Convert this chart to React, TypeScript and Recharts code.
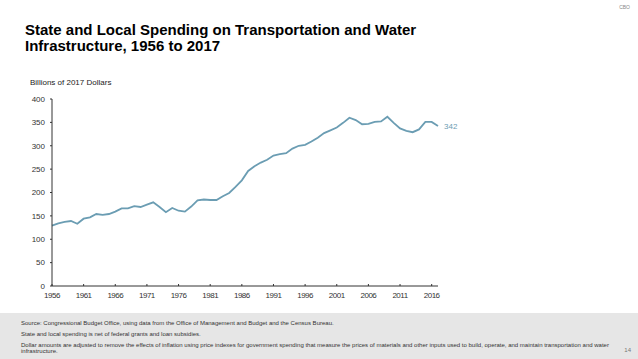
import { LineChart, Line, XAxis, YAxis } from "recharts";

const years = [
  1956, 1957, 1958, 1959, 1960, 1961, 1962, 1963, 1964, 1965, 1966, 1967, 1968, 1969, 1970, 1971,
  1972, 1973, 1974, 1975, 1976, 1977, 1978, 1979, 1980, 1981, 1982, 1983, 1984, 1985, 1986, 1987,
  1988, 1989, 1990, 1991, 1992, 1993, 1994, 1995, 1996, 1997, 1998, 1999, 2000, 2001, 2002, 2003,
  2004, 2005, 2006, 2007, 2008, 2009, 2010, 2011, 2012, 2013, 2014, 2015, 2016, 2017,
];

// billions of 2017 dollars
const spending = [
  129, 134, 137, 139, 133, 144, 147, 154, 152, 154, 159, 166, 166, 171, 169, 174,
  179, 169, 158, 167, 161, 159, 170, 183, 185, 184, 184, 192, 199, 212, 226, 246,
  256, 264, 270, 279, 282, 284, 294, 300, 302, 309, 317, 327, 333, 339, 349, 360,
  355, 346, 347, 351, 352, 362, 349, 337, 332, 329, 335, 351, 351, 342,
];

const xTicks = [1956, 1961, 1966, 1971, 1976, 1981, 1986, 1991, 1996, 2001, 2006, 2011, 2016];
const yTicks = [0, 50, 100, 150, 200, 250, 300, 350, 400];

const notes = [
  "Source: Congressional Budget Office, using data from the Office of Management and Budget and the Census Bureau.",
  "State and local spending is net of federal grants and loan subsidies.",
  "Dollar amounts are adjusted to remove the effects of inflation using price indexes for government spending that measure the prices of materials and other inputs used to build, operate, and maintain transportation and water infrastructure.",
];

const lineColor = "#6b9db3";
const font = "'Liberation Sans', Arial, sans-serif";

const data = years.map((year, i) => ({ year, value: spending[i] }));

function EndLabel(props: any) {
  const { x, y, index, value } = props;
  if (index !== data.length - 1) return null;
  return (
    <text x={x + 6} y={y} dy={3} fontSize={8} fill={lineColor} fontFamily={font}>
      {value}
    </text>
  );
}

export default function App() {
  return (
    <div
      style={{
        position: "absolute",
        left: 0,
        top: 0,
        width: 638,
        height: 359,
        background: "#fff",
        fontFamily: font,
        overflow: "hidden",
      }}
    >
      <div style={{ position: "absolute", right: 8, top: 4, fontSize: 5, color: "#888" }}>CBO</div>
      <div
        style={{
          position: "absolute",
          left: 25,
          top: 22,
          fontSize: 15,
          lineHeight: "15.5px",
          fontWeight: "bold",
          color: "#000",
        }}
      >
        State and Local Spending on Transportation and Water
        <br />
        Infrastructure, 1956 to 2017
      </div>
      <div style={{ position: "absolute", left: 30, top: 78, fontSize: 8, color: "#222" }}>
        Billions of 2017 Dollars
      </div>

      <div style={{ position: "absolute", left: 0, top: 0 }}>
        <LineChart
          width={638}
          height={359}
          data={data}
          margin={{ top: 99, right: 200, left: 0, bottom: 50 }}
        >
          <XAxis
            dataKey="year"
            type="number"
            domain={[1956, 2017]}
            ticks={xTicks}
            interval={0}
            height={23}
            stroke="#333"
            tickSize={-2}
            tickMargin={8}
            tick={{ fontSize: 8, fill: "#333", fontFamily: font, letterSpacing: -0.5 }}
          />
          <YAxis
            type="number"
            domain={[0, 400]}
            ticks={yTicks}
            interval={0}
            width={52}
            stroke="#333"
            tickSize={2}
            tickMargin={5}
            tick={{ fontSize: 8, fill: "#333", fontFamily: font }}
          />
          <Line
            type="linear"
            dataKey="value"
            stroke={lineColor}
            strokeWidth={1.8}
            dot={false}
            isAnimationActive={false}
            label={<EndLabel />}
          />
        </LineChart>
      </div>

      <div
        style={{
          position: "absolute",
          left: 0,
          top: 313,
          width: 638,
          height: 46,
          background: "#e6e6e6",
        }}
      >
        <div style={{ position: "absolute", left: 21, top: 7, width: 598, fontSize: 6, color: "#333", lineHeight: "6px" }}>
          <div style={{ marginBottom: 5 }}>{notes[0]}</div>
          <div style={{ marginBottom: 5 }}>{notes[1]}</div>
          <div>{notes[2]}</div>
        </div>
        <div style={{ position: "absolute", right: 7, top: 34, fontSize: 6, color: "#777" }}>14</div>
      </div>
    </div>
  );
}
